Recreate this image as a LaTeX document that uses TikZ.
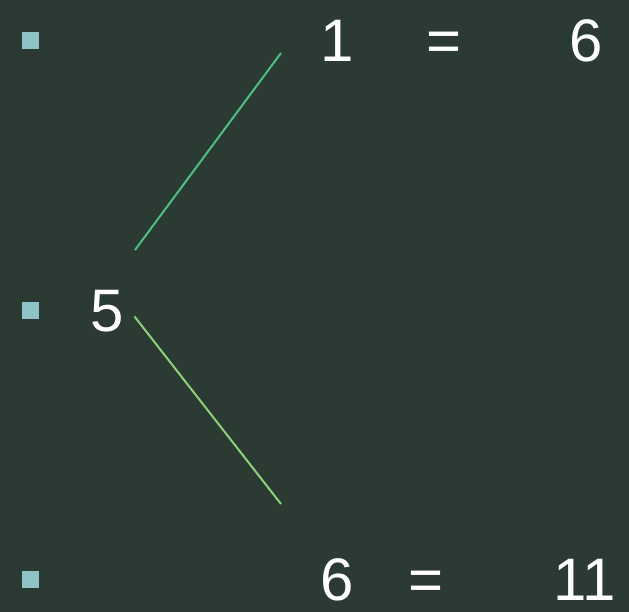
\documentclass[tikz,border=0pt]{standalone}
\usepackage{fontspec}
\setmainfont{Liberation Sans}
\usepackage{xcolor}
\usepackage{tikz}
\usetikzlibrary{positioning}
\definecolor{bgc}{RGB}{43,58,50}
\definecolor{blc}{RGB}{143,195,197}
\definecolor{upc}{RGB}{77,191,128}
\definecolor{dnc}{RGB}{143,208,122}
\tikzset{num/.style={anchor=base,inner sep=0pt,text=white,font=\fontsize{60}{60}\selectfont}}

\begin{document}
\begin{tikzpicture}[x=1pt,y=-1pt]
  \fill[bgc] (0,0) rectangle (629,612);
  \useasboundingbox (0,0) rectangle (629,612);
  \fill[blc] (22,32) rectangle (39,49); \fill[blc] (22,302) rectangle (39,319); \fill[blc] (22,571) rectangle (39,588);
  \node[num] (one) at (337,61.5) {1}; \node[num] (eqa) at (444.5,61.5) {=}; \node[num] (six) at (586.5,61.5) {6};
  \node[num] (five) at (107.5,331) {5};
  \node[num] (sixb) at (337.5,600) {6}; \node[num] (eqb) at (426.5,600) {=}; \node[num] (elev) at (584.5,600) {1\kern-4pt1};
  \coordinate (up0) at (135,250); \coordinate (up1) at (281,53);
  \coordinate (dn0) at (134.5,316.5); \coordinate (dn1) at (281,504);
  \draw[upc,line width=2pt] (up0)--(up1); \draw[dnc,line width=2pt] (dn0)--(dn1);
\end{tikzpicture}
\end{document}
